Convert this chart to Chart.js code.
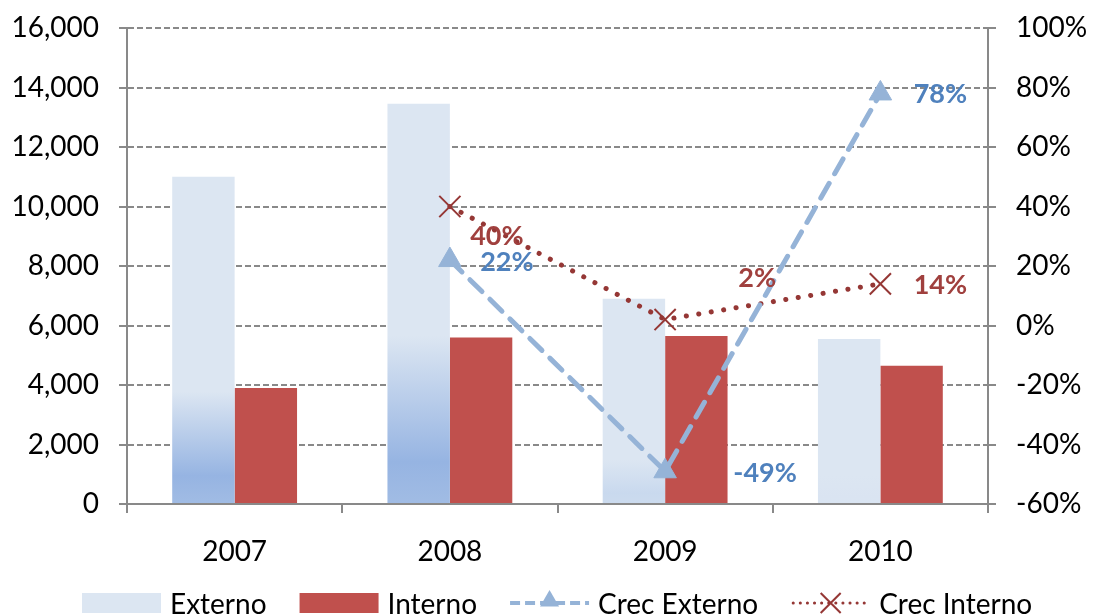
<!DOCTYPE html>
<html>
<head>
<meta charset="utf-8">
<title>Externo / Interno</title>
<script src="https://cdn.jsdelivr.net/npm/chart.js@4.4.1/dist/chart.umd.min.js"></script>
<style>
    html, body { margin: 0; padding: 0; background: #fff; }
    #wrap { width: 1093px; height: 615px; position: relative; }
</style>
</head>
<body>
<div id="wrap"><canvas id="grafico"></canvas></div>
<script>
// datos
var categorias  = ['2007', '2008', '2009', '2010'];
var externo     = [11000, 13450, 6900, 5550];
var interno     = [3900, 5600, 5650, 4650];
var crecExterno = [null, 0.22, -0.49, 0.78];
var crecInterno = [null, 0.40, 0.02, 0.14];

var CLARO  = [220, 230, 242];
var AZUL   = [150, 180, 226];
var ROJO   = '#C0504D';
var LINEA_EXT = '#95B3D7';
var LINEA_INT = '#953735';
var GRIS   = '#898989';
var FUENTE = 'Lato, "Open Sans", sans-serif';

Chart.defaults.font.family = FUENTE;
Chart.defaults.color = '#000';

function mezcla(a, b, t) {
    return 'rgb(' + a.map(function (v, i) { return Math.round(v + (b[i] - v) * t); }).join(',') + ')';
}

// relleno degradado de las barras "Externo"
function rellenoExterno(ctx) {
    var chart = ctx.chart, y = chart.scales.y;
    if (ctx.type !== 'data' || !chart.chartArea || !y) {
        return mezcla(CLARO, CLARO, 0);
    }
    var base = y.getPixelForValue(0);
    var top = y.getPixelForValue(ctx.raw);
    var maxTop = y.getPixelForValue(Math.max.apply(null, externo));
    var h = base - top;
    var ratio = h / (base - maxTop);
    var fuerza = Math.max(0, Math.min(1, (ratio - 0.4) / 0.42));
    var alto = h * ratio * 0.42;
    if (alto < 2) {
        return mezcla(CLARO, CLARO, 0);
    }
    var g = chart.ctx.createLinearGradient(0, base, 0, base - alto);
    g.addColorStop(0, mezcla(CLARO, AZUL, fuerza * 0.85));
    g.addColorStop(0.25, mezcla(CLARO, AZUL, fuerza));
    g.addColorStop(1, mezcla(CLARO, AZUL, 0));
    return g;
}

// ancho fijo y sin relleno extra arriba/abajo
function ajusteVertical(ancho) {
    return function (s) {
        s.width = ancho;
        s.paddingTop = 0;
        s.paddingBottom = 0;
    };
}

var etiquetasPct = {
    id: 'etiquetasPct',
    afterDatasetsDraw: function (chart, args, opts) {
        var c = chart.ctx;
        c.save();
        c.font = 'bold 27px ' + FUENTE;
        c.textAlign = 'center';
        c.textBaseline = 'middle';
        chart.data.datasets.forEach(function (ds, i) {
            var offs = opts.desplaz[ds.label];
            if (!offs) return;
            var meta = chart.getDatasetMeta(i);
            meta.data.forEach(function (pt, j) {
                if (ds.data[j] == null || !offs[j]) return;
                c.fillStyle = opts.colores[ds.label];
                c.fillText(Math.round(ds.data[j] * 100) + '%', pt.x + offs[j][0], pt.y + offs[j][1]);
            });
        });
        c.restore();
    }
};

function triangulo(c, x, y, r) {
    c.beginPath();
    c.moveTo(x, y - r);
    c.lineTo(x + r * 0.866, y + r * 0.5);
    c.lineTo(x - r * 0.866, y + r * 0.5);
    c.closePath();
    c.fill();
}

function cruz(c, x, y, r) {
    c.beginPath();
    c.moveTo(x - r, y - r); c.lineTo(x + r, y + r);
    c.moveTo(x + r, y - r); c.lineTo(x - r, y + r);
    c.stroke();
}

var leyenda = {
    id: 'leyendaPropia',
    afterDraw: function (chart, args, opts) {
        var c = chart.ctx;
        var x = 82, yc = 603, ancho = 79;
        c.save();
        c.font = '28px ' + FUENTE;
        c.textBaseline = 'alphabetic';
        c.textAlign = 'left';
        opts.orden.forEach(function (nombre) {
            if (nombre === 'Externo') {
                c.fillStyle = mezcla(CLARO, CLARO, 0);
                c.fillRect(x, yc - 10, ancho, 20);
            } else if (nombre === 'Interno') {
                c.fillStyle = ROJO;
                c.fillRect(x, yc - 10, ancho, 20);
            } else if (nombre === 'Crec Externo') {
                c.strokeStyle = LINEA_EXT;
                c.lineWidth = 4;
                c.setLineDash([10, 5]);
                c.beginPath(); c.moveTo(x, yc); c.lineTo(x + ancho, yc); c.stroke();
                c.setLineDash([]);
                c.fillStyle = LINEA_EXT;
                triangulo(c, x + ancho / 2, yc - 2, 11);
            } else {
                c.strokeStyle = LINEA_INT;
                c.lineWidth = 3;
                c.lineCap = 'round';
                c.setLineDash([0.1, 7]);
                c.beginPath(); c.moveTo(x + 2, yc); c.lineTo(x + ancho, yc); c.stroke();
                c.setLineDash([]);
                c.lineCap = 'butt';
                c.lineWidth = 2;
                cruz(c, x + ancho / 2, yc, 10);
            }
            c.fillStyle = '#000';
            c.fillText(nombre, x + ancho + 9, 614);
            x += ancho + 9 + c.measureText(nombre).width + 33;
        });
        c.restore();
    }
};

new Chart(document.getElementById('grafico'), {
    type: 'bar',
    data: {
        labels: categorias,
        datasets: [{
            type: 'line',
            label: 'Crec Externo',
            data: crecExterno,
            yAxisID: 'y1',
            order: 0,
            borderColor: LINEA_EXT,
            backgroundColor: LINEA_EXT,
            borderWidth: 5,
            borderDash: [17, 11],
            borderCapStyle: 'round',
            pointStyle: 'triangle',
            pointRadius: 13,
            pointBorderWidth: 1,
            fill: false,
            tension: 0
        }, {
            type: 'line',
            label: 'Crec Interno',
            data: crecInterno,
            yAxisID: 'y1',
            order: 0,
            borderColor: LINEA_INT,
            backgroundColor: LINEA_INT,
            borderWidth: 5,
            borderDash: [0.1, 12.5],
            borderCapStyle: 'round',
            pointStyle: 'crossRot',
            pointRadius: 15,
            pointBorderWidth: 2,
            fill: false,
            tension: 0
        }, {
            label: 'Externo',
            data: externo,
            yAxisID: 'y',
            order: 1,
            backgroundColor: rellenoExterno,
            borderWidth: 0
        }, {
            label: 'Interno',
            data: interno,
            yAxisID: 'y',
            order: 1,
            backgroundColor: ROJO,
            borderWidth: 0
        }]
    },
    options: {
        responsive: true,
        maintainAspectRatio: false,
        animation: false,
        datasets: {
            bar: { categoryPercentage: 0.58, barPercentage: 1 }
        },
        layout: { padding: { top: 28, left: 0, right: 0, bottom: 0 } },
        scales: {
            x: {
                offset: true,
                grid: { drawOnChartArea: false, drawTicks: true, tickLength: 9, color: GRIS, lineWidth: 2, offset: true },
                border: { color: GRIS, width: 2 },
                ticks: { font: { size: 28 }, padding: 22 },
                afterFit: function (s) { s.height = 111; s.paddingLeft = 0; s.paddingRight = 0; }
            },
            y: {
                position: 'left',
                min: 0,
                max: 16000,
                ticks: {
                    stepSize: 2000,
                    font: { size: 28 },
                    padding: 20,
                    callback: function (v) { return v.toLocaleString('en-US'); }
                },
                grid: { color: GRIS, lineWidth: 2, tickLength: 8, tickBorderDash: [] },
                border: { color: GRIS, width: 2, dash: [6, 3] },
                afterFit: ajusteVertical(127)
            },
            y1: {
                position: 'right',
                min: -0.6,
                max: 1.0,
                ticks: {
                    stepSize: 0.2,
                    font: { size: 28 },
                    padding: 20,
                    callback: function (v) { return Math.round(v * 100) + '%'; }
                },
                grid: { drawOnChartArea: false, color: GRIS, lineWidth: 2, tickLength: 8 },
                border: { color: GRIS, width: 2 },
                afterFit: ajusteVertical(105)
            }
        },
        plugins: {
            legend: { display: false },
            tooltip: { enabled: false },
            leyendaPropia: { orden: ['Externo', 'Interno', 'Crec Externo', 'Crec Interno'] },
            etiquetasPct: {
                colores: { 'Crec Externo': '#4F81BD', 'Crec Interno': '#A0403E' },
                desplaz: {
                    'Crec Externo': [null, [57, 2], [100, 2], [60, 1]],
                    'Crec Interno': [null, [47, 30], [92, -41], [60, 1]]
                }
            }
        }
    },
    plugins: [etiquetasPct, leyenda]
});
</script>
</body>
</html>
